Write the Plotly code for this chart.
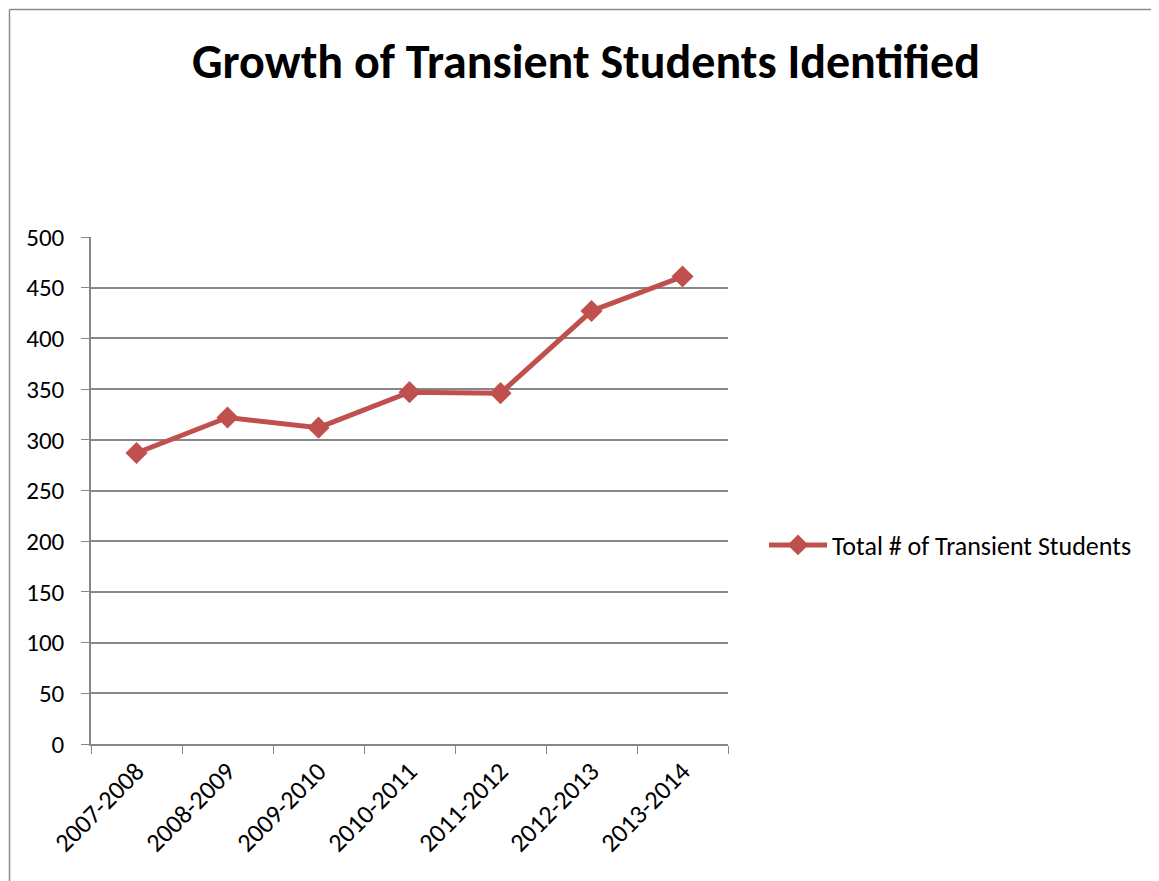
import plotly.graph_objects as go

years = ["2007-2008", "2008-2009", "2009-2010", "2010-2011",
         "2011-2012", "2012-2013", "2013-2014"]
students = [287, 322, 312, 347, 346, 427, 461]
series_name = "Total # of Transient Students"
title_text = "Growth of Transient Students Identified"

RED = "#C0504D"
GRID = "#868686"
FONT = "Calibri, Carlito, Lato, 'Open Sans', sans-serif"

W, H = 1159, 881
OFF = 8  # page body margin pushes the figure 8px right/down
# plot area as seen on the page
L, R, T, B = 91, 728, 237, 744
pw, ph = R - L, B - T

fig = go.Figure()
fig.add_trace(go.Scatter(
    x=years, y=students, mode="lines+markers", name=series_name,
    line=dict(color=RED, width=5),
    marker=dict(symbol="diamond", size=17, color=RED),
))

# outer chart frame: only the left and top edges show in the picture
fx0 = (OFF + 1.5 - L) / pw
fy1 = (B - OFF - 1.5) / ph
frame = dict(color="#8C8C8C", width=1.5)

fig.update_layout(
    width=W, height=H,
    margin=dict(l=L - OFF, r=W - (R - OFF), t=T - OFF, b=H - (B - OFF),
                autoexpand=False),
    paper_bgcolor="white", plot_bgcolor="white",
    font=dict(family=FONT, color="black", size=25),
    title=dict(text="<b>" + title_text + "</b>", xref="container",
               x=(586 - OFF) / W, xanchor="center",
               y=1 - (61 - OFF) / H, yanchor="middle",
               font=dict(size=48, family=FONT, color="black")),
    showlegend=True,
    legend=dict(x=(764 - L) / pw, y=(B - 545) / ph, xanchor="left",
                yanchor="middle", font=dict(size=26), bgcolor="rgba(0,0,0,0)",
                itemwidth=58),
    shapes=[
        dict(type="line", xref="paper", yref="paper", x0=fx0, x1=fx0,
             y0=(B - 900) / ph, y1=fy1, line=frame, layer="below"),
        dict(type="line", xref="paper", yref="paper", x0=fx0,
             x1=(1156 - L) / pw, y0=fy1, y1=fy1, line=frame, layer="below"),
    ],
)

fig.update_xaxes(
    type="category", range=[-0.5, len(years) - 0.5],
    showline=True, linecolor=GRID, linewidth=1.5,
    ticks="outside", tickson="boundaries", ticklen=8, tickcolor=GRID,
    showgrid=False, tickangle=-45, tickfont=dict(size=26),
)
fig.update_yaxes(
    range=[0, 500], dtick=50,
    showline=True, linecolor=GRID, linewidth=1.5,
    ticks="outside", ticklen=8, tickcolor=GRID,
    showgrid=True, gridcolor=GRID, gridwidth=1.5,
    zeroline=False, tickfont=dict(size=25), ticklabelstandoff=12,
)

fig.write_html("out.html")
